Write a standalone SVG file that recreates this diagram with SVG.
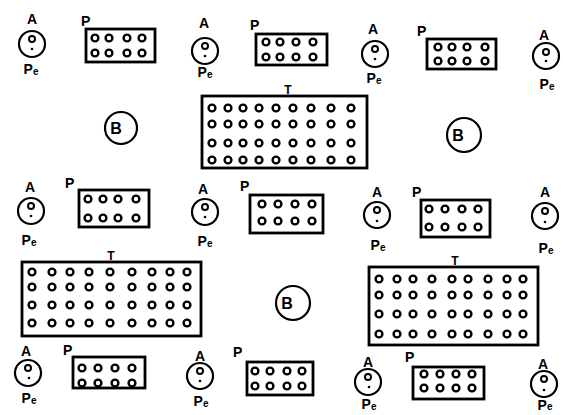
<svg xmlns="http://www.w3.org/2000/svg" xmlns:xlink="http://www.w3.org/1999/xlink" width="563" height="415" viewBox="0 0 563 415">
<style>
.lbl{font-family:"Liberation Sans",Arial,sans-serif;font-weight:bold;font-size:14px;fill:#000}
.tl{font-family:"Liberation Sans",Arial,sans-serif;font-weight:bold;font-size:12px;fill:#000}
.bl{font-family:"Liberation Sans",Arial,sans-serif;font-weight:bold;font-size:16px;fill:#000}
.sub{font-size:10px}
.ring{fill:none;stroke:#000;stroke-width:2.2}
.inner{fill:none;stroke:#000;stroke-width:2}
.pt{fill:#000}
.box{fill:none;stroke:#000;stroke-width:2.8}
.dot{fill:none;stroke:#000;stroke-width:2.4}
</style>
<defs>
<circle id="d" r="3.4" class="dot"/>
<g id="r1"><use xlink:href="#d" x="212"/><use xlink:href="#d" x="228"/><use xlink:href="#d" x="243"/><use xlink:href="#d" x="259"/><use xlink:href="#d" x="276"/><use xlink:href="#d" x="293"/><use xlink:href="#d" x="311"/><use xlink:href="#d" x="331"/><use xlink:href="#d" x="351"/></g>
<g id="r2"><use xlink:href="#d" x="32"/><use xlink:href="#d" x="52"/><use xlink:href="#d" x="70"/><use xlink:href="#d" x="89"/><use xlink:href="#d" x="110"/><use xlink:href="#d" x="132"/><use xlink:href="#d" x="152"/><use xlink:href="#d" x="170"/><use xlink:href="#d" x="187"/></g>
<g id="r3"><use xlink:href="#d" x="379"/><use xlink:href="#d" x="397"/><use xlink:href="#d" x="413"/><use xlink:href="#d" x="432"/><use xlink:href="#d" x="452"/><use xlink:href="#d" x="468"/><use xlink:href="#d" x="488"/><use xlink:href="#d" x="507"/><use xlink:href="#d" x="523"/></g>
</defs>
<rect width="563" height="415" fill="#fff"/>

<!-- A nodes -->
<g id="A1"><text x="32" y="24" class="lbl" text-anchor="middle">A</text><circle cx="32" cy="44" r="13" class="ring"/><circle cx="32" cy="39" r="3" class="inner"/><circle cx="32" cy="49" r="1.3" class="pt"/><text x="31" y="74" class="lbl" text-anchor="middle">P<tspan class="sub" dy="1">e</tspan></text></g>
<g id="A2"><text x="204" y="28" class="lbl" text-anchor="middle">A</text><circle cx="205" cy="51" r="13" class="ring"/><circle cx="205" cy="46" r="3" class="inner"/><circle cx="205" cy="56" r="1.3" class="pt"/><text x="205" y="77" class="lbl" text-anchor="middle">P<tspan class="sub" dy="1">e</tspan></text></g>
<g id="A3"><text x="373" y="34" class="lbl" text-anchor="middle">A</text><circle cx="375" cy="54" r="13" class="ring"/><circle cx="375" cy="49" r="3" class="inner"/><circle cx="375" cy="59" r="1.3" class="pt"/><text x="374" y="83" class="lbl" text-anchor="middle">P<tspan class="sub" dy="1">e</tspan></text></g>
<g id="A4"><text x="544" y="40" class="lbl" text-anchor="middle">A</text><circle cx="546" cy="56" r="13" class="ring"/><circle cx="546" cy="52" r="3" class="inner"/><circle cx="546" cy="61" r="1.3" class="pt"/><text x="547" y="89" class="lbl" text-anchor="middle">P<tspan class="sub" dy="1">e</tspan></text></g>
<g id="A5"><text x="30" y="192" class="lbl" text-anchor="middle">A</text><circle cx="31" cy="211" r="13" class="ring"/><circle cx="31" cy="206" r="3" class="inner"/><circle cx="31" cy="216" r="1.3" class="pt"/><text x="29" y="245" class="lbl" text-anchor="middle">P<tspan class="sub" dy="1">e</tspan></text></g>
<g id="A6"><text x="203" y="194" class="lbl" text-anchor="middle">A</text><circle cx="205" cy="212" r="13" class="ring"/><circle cx="205" cy="207" r="3" class="inner"/><circle cx="205" cy="217" r="1.3" class="pt"/><text x="205" y="246" class="lbl" text-anchor="middle">P<tspan class="sub" dy="1">e</tspan></text></g>
<g id="A7"><text x="377" y="197" class="lbl" text-anchor="middle">A</text><circle cx="377" cy="215" r="13" class="ring"/><circle cx="377" cy="210" r="3" class="inner"/><circle cx="377" cy="221" r="1.3" class="pt"/><text x="378" y="250" class="lbl" text-anchor="middle">P<tspan class="sub" dy="1">e</tspan></text></g>
<g id="A8"><text x="545" y="197" class="lbl" text-anchor="middle">A</text><circle cx="545" cy="216" r="13" class="ring"/><circle cx="545" cy="211" r="3" class="inner"/><circle cx="545" cy="222" r="1.3" class="pt"/><text x="546" y="253" class="lbl" text-anchor="middle">P<tspan class="sub" dy="1">e</tspan></text></g>
<g id="A9"><text x="26" y="356" class="lbl" text-anchor="middle">A</text><circle cx="28" cy="373" r="13" class="ring"/><circle cx="28" cy="368" r="3" class="inner"/><circle cx="29" cy="378" r="1.3" class="pt"/><text x="29" y="403" class="lbl" text-anchor="middle">P<tspan class="sub" dy="1">e</tspan></text></g>
<g id="A10"><text x="200" y="361" class="lbl" text-anchor="middle">A</text><circle cx="200" cy="376" r="13" class="ring"/><circle cx="200" cy="371" r="3" class="inner"/><circle cx="200" cy="381" r="1.3" class="pt"/><text x="201" y="406" class="lbl" text-anchor="middle">P<tspan class="sub" dy="1">e</tspan></text></g>
<g id="A11"><text x="368" y="367" class="lbl" text-anchor="middle">A</text><circle cx="368" cy="382" r="13" class="ring"/><circle cx="368" cy="377" r="3" class="inner"/><circle cx="369" cy="387" r="1.3" class="pt"/><text x="369" y="409" class="lbl" text-anchor="middle">P<tspan class="sub" dy="1">e</tspan></text></g>
<g id="A12"><text x="543" y="369" class="lbl" text-anchor="middle">A</text><circle cx="544" cy="384" r="13" class="ring"/><circle cx="544" cy="379" r="3" class="inner"/><circle cx="544" cy="390" r="1.3" class="pt"/><text x="545" y="410" class="lbl" text-anchor="middle">P<tspan class="sub" dy="0">e</tspan></text></g>

<!-- P nodes -->
<g id="P1"><text x="81" y="26" class="lbl">P</text><rect x="86" y="29" width="69" height="33" class="box"/><use xlink:href="#d" x="95" y="38"/><use xlink:href="#d" x="109" y="38"/><use xlink:href="#d" x="127" y="38"/><use xlink:href="#d" x="142" y="38"/><use xlink:href="#d" x="95" y="53"/><use xlink:href="#d" x="109" y="53"/><use xlink:href="#d" x="127" y="53"/><use xlink:href="#d" x="142" y="53"/></g>
<g id="P2"><text x="250" y="30" class="lbl">P</text><rect x="256" y="34" width="71" height="31" class="box"/><use xlink:href="#d" x="266" y="42"/><use xlink:href="#d" x="280" y="42"/><use xlink:href="#d" x="296" y="42"/><use xlink:href="#d" x="313" y="42"/><use xlink:href="#d" x="266" y="57"/><use xlink:href="#d" x="280" y="57"/><use xlink:href="#d" x="296" y="57"/><use xlink:href="#d" x="313" y="57"/></g>
<g id="P3"><text x="417" y="36" class="lbl">P</text><rect x="427" y="39" width="69" height="30" class="box"/><use xlink:href="#d" x="438" y="47"/><use xlink:href="#d" x="452" y="47"/><use xlink:href="#d" x="467" y="47"/><use xlink:href="#d" x="485" y="47"/><use xlink:href="#d" x="438" y="61"/><use xlink:href="#d" x="452" y="61"/><use xlink:href="#d" x="467" y="61"/><use xlink:href="#d" x="485" y="61"/></g>
<g id="P4"><text x="65" y="188" class="lbl">P</text><rect x="79" y="190" width="70" height="37" class="box"/><use xlink:href="#d" x="88" y="199"/><use xlink:href="#d" x="103" y="199"/><use xlink:href="#d" x="118" y="199"/><use xlink:href="#d" x="136" y="199"/><use xlink:href="#d" x="88" y="218"/><use xlink:href="#d" x="103" y="218"/><use xlink:href="#d" x="118" y="218"/><use xlink:href="#d" x="136" y="218"/></g>
<g id="P5"><text x="240" y="191" class="lbl">P</text><rect x="250" y="195" width="73" height="38" class="box"/><use xlink:href="#d" x="262" y="204"/><use xlink:href="#d" x="278" y="204"/><use xlink:href="#d" x="295" y="204"/><use xlink:href="#d" x="312" y="204"/><use xlink:href="#d" x="262" y="221"/><use xlink:href="#d" x="278" y="221"/><use xlink:href="#d" x="295" y="221"/><use xlink:href="#d" x="312" y="221"/></g>
<g id="P6"><text x="412" y="197" class="lbl">P</text><rect x="421" y="200" width="69" height="37" class="box"/><use xlink:href="#d" x="429" y="209"/><use xlink:href="#d" x="445" y="209"/><use xlink:href="#d" x="462" y="209"/><use xlink:href="#d" x="478" y="209"/><use xlink:href="#d" x="429" y="227"/><use xlink:href="#d" x="445" y="227"/><use xlink:href="#d" x="462" y="227"/><use xlink:href="#d" x="478" y="227"/></g>
<g id="P7"><text x="63" y="355" class="lbl">P</text><rect x="73" y="357" width="72" height="31" class="box"/><use xlink:href="#d" x="82" y="368"/><use xlink:href="#d" x="98" y="368"/><use xlink:href="#d" x="115" y="368"/><use xlink:href="#d" x="132" y="368"/><use xlink:href="#d" x="82" y="383"/><use xlink:href="#d" x="98" y="383"/><use xlink:href="#d" x="115" y="383"/><use xlink:href="#d" x="132" y="383"/></g>
<g id="P8"><text x="233" y="357" class="lbl">P</text><rect x="247" y="362" width="66" height="33" class="box"/><use xlink:href="#d" x="255" y="371"/><use xlink:href="#d" x="270" y="371"/><use xlink:href="#d" x="287" y="371"/><use xlink:href="#d" x="302" y="371"/><use xlink:href="#d" x="255" y="386"/><use xlink:href="#d" x="270" y="386"/><use xlink:href="#d" x="287" y="386"/><use xlink:href="#d" x="302" y="386"/></g>
<g id="P9"><text x="405" y="362" class="lbl">P</text><rect x="413" y="367" width="71" height="32" class="box"/><use xlink:href="#d" x="424" y="374"/><use xlink:href="#d" x="440" y="374"/><use xlink:href="#d" x="456" y="374"/><use xlink:href="#d" x="472" y="374"/><use xlink:href="#d" x="424" y="388"/><use xlink:href="#d" x="440" y="388"/><use xlink:href="#d" x="456" y="388"/><use xlink:href="#d" x="472" y="388"/></g>

<!-- T nodes -->
<g id="T1"><text x="288" y="94" class="tl" text-anchor="middle">T</text><rect x="202" y="96" width="165" height="72" class="box"/><use xlink:href="#r1" y="108"/><use xlink:href="#r1" y="124"/><use xlink:href="#r1" y="143"/><use xlink:href="#r1" y="160"/></g>
<g id="T2"><text x="111" y="260" class="tl" text-anchor="middle">T</text><rect x="22" y="262" width="179" height="74" class="box"/><use xlink:href="#r2" y="272"/><use xlink:href="#r2" y="287"/><use xlink:href="#r2" y="305"/><use xlink:href="#r2" y="323"/></g>
<g id="T3"><text x="455" y="265" class="tl" text-anchor="middle">T</text><rect x="369" y="267" width="169" height="78" class="box"/><use xlink:href="#r3" y="279"/><use xlink:href="#r3" y="295"/><use xlink:href="#r3" y="314"/><use xlink:href="#r3" y="334"/></g>

<!-- B nodes -->
<g id="B1"><circle cx="121" cy="128" r="16" class="ring"/><text x="116" y="134" class="bl" text-anchor="middle">B</text></g>
<g id="B2"><circle cx="464" cy="135" r="17" class="ring"/><text x="458" y="141" class="bl" text-anchor="middle">B</text></g>
<g id="B3"><circle cx="293" cy="303" r="17" class="ring"/><text x="287" y="309" class="bl" text-anchor="middle">B</text></g>

<g id="connectors"/>
</svg>
